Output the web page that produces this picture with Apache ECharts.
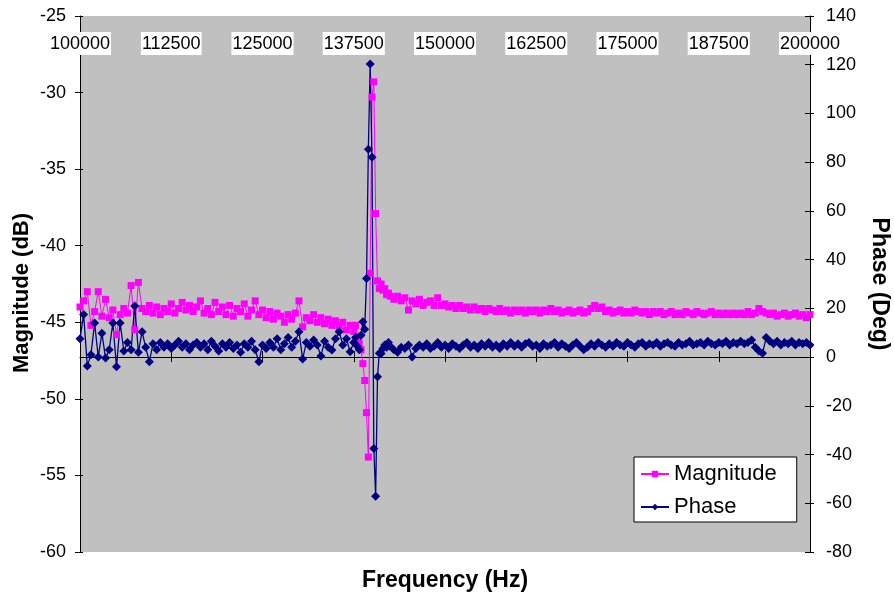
<!DOCTYPE html>
<html>
<head>
<meta charset="utf-8">
<script src="https://cdn.jsdelivr.net/npm/echarts@6/dist/echarts.min.js"></script>
<style>
html,body{margin:0;padding:0;background:#fff;}
#chart{width:894px;height:598px;}
</style>
</head>
<body>
<div id="chart"></div>
<script>
// Sampling grid segments (start Hz, step Hz)
const seg1Start = 100000, seg1Step = 500;
const seg2Start = 137750, seg2Step = 250;
const seg3Start = 142500, seg3Step = 500;

// Magnitude (dB)
const magSeg1 = [
  -44.0,-43.6,-43.0,-45.2,-44.3,-43.0,-44.6,-43.5,-44.7,-44.2,
  -45.8,-44.5,-44.1,-44.4,-42.6,-45.5,-42.4,-44.1,-44.3,-43.9,
  -44.4,-44.0,-44.5,-44.1,-44.3,-43.8,-44.4,-44.1,-43.7,-44.2,
  -43.9,-44.3,-44.0,-43.6,-44.4,-44.1,-44.5,-43.7,-44.3,-44.0,
  -44.5,-43.9,-44.6,-44.1,-44.3,-43.8,-44.6,-44.2,-43.6,-44.5,
  -44.2,-44.7,-44.3,-44.8,-44.4,-44.6,-45.0,-44.5,-44.8,-44.4,
  -43.6,-45.3,-44.7,-44.9,-44.5,-45.0,-44.7,-45.1,-44.8,-45.2,
  -44.9,-45.3,-45.0,-45.5,-45.2,-45.6
];
const magSeg2 = [
  -45.2,-45.9,-46.4,-46.8,-47.7,-48.8,-50.9,-53.8,-41.8,-30.3,
  -29.3,-37.9,-42.3,-42.8,-42.5,-42.9,-42.8,-43.2,-43.1
];
const magSeg3 = [
  -43.3,-43.5,-43.3,-43.6,-43.4,-44.2,-43.6,-43.8,-43.5,-43.9,
  -43.7,-43.6,-43.9,-43.4,-43.9,-43.8,-44.0,-43.9,-44.1,-43.9,
  -44.1,-44.0,-44.2,-44.0,-44.2,-44.1,-44.3,-44.1,-44.2,-44.3,
  -44.1,-44.3,-44.2,-44.4,-44.2,-44.3,-44.2,-44.4,-44.2,-44.3,
  -44.2,-44.4,-44.2,-44.3,-44.1,-44.3,-44.2,-44.4,-44.3,-44.2,
  -44.4,-44.3,-44.2,-44.4,-44.3,-44.1,-43.9,-44.1,-44.0,-44.3,
  -44.2,-44.4,-44.3,-44.2,-44.4,-44.3,-44.4,-44.2,-44.3,-44.4,
  -44.3,-44.5,-44.3,-44.4,-44.3,-44.5,-44.4,-44.3,-44.5,-44.4,
  -44.5,-44.3,-44.4,-44.5,-44.3,-44.4,-44.5,-44.4,-44.3,-44.5,
  -44.4,-44.5,-44.4,-44.5,-44.4,-44.5,-44.4,-44.5,-44.3,-44.5,
  -44.4,-44.1,-44.3,-44.4,-44.5,-44.4,-44.6,-44.5,-44.4,-44.6,
  -44.5,-44.4,-44.6,-44.5,-44.7,-44.5
];

// Phase (Deg)
const phaseSeg1 = [
  7.5,17.5,-3.7,1.0,14.0,0.0,9.8,-0.4,3.0,14.0,
  -4.0,14.0,2.5,6.0,3.0,21.0,2.0,10.4,4.0,-1.9,
  5.5,3.0,6.0,4.0,5.5,3.5,5.0,6.5,4.0,5.5,
  3.0,5.0,6.0,4.0,5.5,3.0,6.5,4.5,2.5,5.5,
  4.0,6.0,3.5,5.0,2.0,5.5,4.0,6.5,3.0,-1.9,
  5.0,3.5,6.0,4.0,7.5,3.0,5.5,8.0,4.0,6.5,
  10.4,-0.8,6.0,4.5,7.0,5.0,0.4,6.5,4.0,2.9,
  7.5,10.4,5.0,7.5,2.2,6.0
];
const phaseSeg2 = [
  8.0,4.5,3.0,9.0,14.5,11.4,32.3,85.3,120.3,82.0,
  -37.5,-57.1,-8.1,1.6,1.5,3.5,5.0,4.0,6.0
];
const phaseSeg3 = [
  4.5,3.0,2.0,4.0,3.5,5.0,0.0,3.5,5.0,4.0,
  5.5,3.5,4.5,6.0,4.0,5.0,3.5,5.5,4.5,3.5,
  5.0,6.0,4.0,5.0,3.5,5.5,4.5,6.0,4.0,5.0,
  3.5,5.5,4.5,6.0,4.5,5.5,4.0,5.5,6.0,4.5,
  5.0,3.5,5.5,4.5,5.0,6.0,4.0,5.5,4.5,3.5,
  5.0,6.0,4.5,3.0,4.0,5.5,4.5,6.0,5.0,4.0,
  5.5,4.5,6.0,5.0,4.5,6.0,5.0,4.0,5.5,6.0,
  4.5,5.5,5.0,6.0,4.5,5.5,6.0,5.0,4.5,6.0,
  5.0,5.5,6.5,5.0,5.5,6.0,5.0,6.5,5.5,5.0,
  6.0,5.5,6.5,5.0,6.0,5.5,6.5,5.5,6.0,7.0,
  4.0,2.5,1.6,8.0,6.5,5.5,6.5,5.0,6.0,5.5,
  6.5,5.0,6.0,5.5,6.0,5.0
];

const xTicks = { min: 100000, max: 200000, interval: 12500 };
const magTicks = { min: -60, max: -25, interval: 5 };
const phaseTicks = { min: -80, max: 140, interval: 20 };

function pairs(start, step, vals) {
  return vals.map((v, i) => [start + i * step, v]);
}
const magData = [].concat(
  pairs(seg1Start, seg1Step, magSeg1),
  pairs(seg2Start, seg2Step, magSeg2),
  pairs(seg3Start, seg3Step, magSeg3)
);
const phaseData = [].concat(
  pairs(seg1Start, seg1Step, phaseSeg1),
  pairs(seg2Start, seg2Step, phaseSeg2),
  pairs(seg3Start, seg3Step, phaseSeg3)
);

const FONT = "'Liberation Sans', Arial, Helvetica, sans-serif";
const chart = echarts.init(document.getElementById('chart'), null, { renderer: 'canvas' });

const blackLine = { show: true, lineStyle: { color: '#000', width: 1 } };

chart.setOption({
  animation: false,
  backgroundColor: '#fff',
  textStyle: { fontFamily: FONT, color: '#000' },
  grid: {
    left: 80, right: 84, top: 16, bottom: 46,
    show: true, backgroundColor: '#c0c0c0', borderWidth: 0
  },
  xAxis: [
    {
      type: 'value', position: 'top',
      min: xTicks.min, max: xTicks.max, interval: xTicks.interval,
      axisLine: blackLine,
      axisTick: { show: true, inside: false, length: 6, lineStyle: { color: '#000' } },
      axisLabel: {
        inside: true, margin: 16, fontSize: 18, color: '#000', fontFamily: FONT,
        backgroundColor: '#fff', padding: [3, 1, 2, 1],
        showMinLabel: true, showMaxLabel: true,
        formatter: function (v) { return String(v); }
      },
      splitLine: { show: false }
    },
    {
      type: 'value', position: 'top',
      min: xTicks.min, max: xTicks.max, interval: xTicks.interval,
      axisLine: { show: false },
      axisTick: { show: true, inside: true, length: 5, lineStyle: { color: '#000' } },
      axisLabel: { show: false },
      splitLine: { show: false }
    }
  ],
  yAxis: [
    {
      type: 'value', position: 'left',
      min: magTicks.min, max: magTicks.max, interval: magTicks.interval,
      axisLine: blackLine,
      axisTick: { show: true, inside: false, length: 5, lineStyle: { color: '#000' } },
      axisLabel: { fontSize: 18, color: '#000', margin: 14, fontFamily: FONT },
      splitLine: { show: false }
    },
    {
      type: 'value', position: 'right',
      min: phaseTicks.min, max: phaseTicks.max, interval: phaseTicks.interval,
      axisLine: blackLine,
      axisTick: { show: true, inside: false, length: 4, lineStyle: { color: '#000' } },
      axisLabel: { fontSize: 18, color: '#000', margin: 16, fontFamily: FONT },
      splitLine: { show: false }
    },
    {
      type: 'value', position: 'left',
      min: magTicks.min, max: magTicks.max, interval: magTicks.interval,
      axisLine: { show: false },
      axisTick: { show: true, inside: true, length: 3, lineStyle: { color: '#000' } },
      axisLabel: { show: false },
      splitLine: { show: false }
    },
    {
      type: 'value', position: 'right',
      min: phaseTicks.min, max: phaseTicks.max, interval: phaseTicks.interval,
      axisLine: { show: false },
      axisTick: { show: true, inside: true, length: 5, lineStyle: { color: '#000' } },
      axisLabel: { show: false },
      splitLine: { show: false }
    }
  ],
  legend: {
    orient: 'vertical',
    left: 634, top: 457,
    padding: [6, 20, 4, 6],
    itemGap: 11,
    itemWidth: 28, itemHeight: 8,
    backgroundColor: '#fff',
    borderColor: '#000', borderWidth: 1,
    textStyle: { fontSize: 22, lineHeight: 22, color: '#000', fontFamily: FONT },
    data: ['Magnitude', 'Phase']
  },
  series: [
    {
      name: 'Magnitude', type: 'line', xAxisIndex: 0, yAxisIndex: 0,
      data: magData,
      symbol: 'rect', symbolSize: 7, showAllSymbol: true,
      lineStyle: { color: '#ff00ff', width: 1 },
      itemStyle: { color: '#ff00ff' },
      emphasis: { disabled: true }
    },
    {
      name: 'Phase', type: 'line', xAxisIndex: 0, yAxisIndex: 1,
      data: phaseData,
      symbol: 'diamond', symbolSize: 9, showAllSymbol: true,
      lineStyle: { color: '#000080', width: 1.3 },
      itemStyle: { color: '#000080' },
      emphasis: { disabled: true }
    }
  ],
  graphic: [
    {
      type: 'text', x: 445, y: 581,
      style: { text: 'Frequency (Hz)', font: 'bold 23px ' + FONT, fill: '#000',
               align: 'center', verticalAlign: 'middle', textAlign: 'center', textVerticalAlign: 'middle' }
    },
    {
      type: 'text', x: 22, y: 293, rotation: Math.PI / 2,
      style: { text: 'Magnitude (dB)', font: 'bold 22px ' + FONT, fill: '#000',
               align: 'center', verticalAlign: 'middle', textAlign: 'center', textVerticalAlign: 'middle' }
    },
    {
      type: 'text', x: 879, y: 284, rotation: -Math.PI / 2,
      style: { text: 'Phase (Deg)', font: 'bold 23px ' + FONT, fill: '#000',
               align: 'center', verticalAlign: 'middle', textAlign: 'center', textVerticalAlign: 'middle' }
    }
  ]
});
</script>
</body>
</html>
